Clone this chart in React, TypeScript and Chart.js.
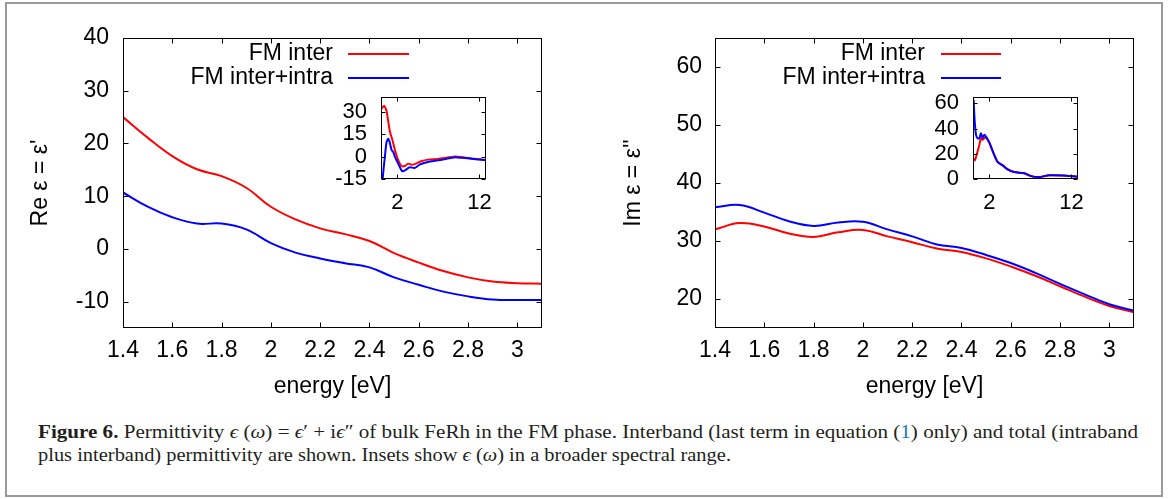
import React, { useEffect, useRef } from "react";
import { Chart, registerables } from "chart.js";

Chart.register(...registerables);

// ---------- data ----------
const SERIES_LABELS = ["FM inter", "FM inter+intra"];
const SERIES_COLORS = ["#ff0000", "#0000ff"];

const MAIN_E = [1.4, 1.5, 1.6, 1.7, 1.8, 1.9, 2.0, 2.1, 2.2, 2.3, 2.4, 2.5, 2.6, 2.7, 2.8, 2.9, 3.0, 3.1];
const RE_INTER = [25.0, 21.1, 17.6, 15.1, 13.8, 11.6, 8.0, 5.6, 3.9, 2.8, 1.5, -0.8, -2.6, -4.2, -5.4, -6.2, -6.5, -6.6];
const RE_TOTAL = [10.7, 8.0, 6.0, 4.8, 4.8, 3.7, 1.1, -0.7, -1.8, -2.7, -3.5, -5.4, -6.8, -8.1, -9.0, -9.6, -9.7, -9.7];
const IM_INTER = [32.0, 33.1, 32.5, 31.3, 30.7, 31.5, 31.9, 30.8, 29.8, 28.7, 28.1, 27.0, 25.6, 24.0, 22.2, 20.4, 18.8, 17.7];
const IM_TOTAL = [35.8, 36.2, 34.9, 33.4, 32.6, 33.2, 33.3, 32.0, 30.8, 29.4, 28.8, 27.6, 26.2, 24.5, 22.6, 20.8, 19.1, 18.0];

const RE_INSET_INTER_E = [0.12, 0.25, 0.4, 0.55, 0.7, 0.9, 1.1, 1.4, 1.7, 2.1, 2.5, 2.9, 3.3, 3.7, 4.1, 4.9, 5.7, 6.9, 8.0, 8.9, 9.8, 10.8, 11.8, 12.8];
const RE_INSET_INTER = [32.2, 33.5, 34.0, 32.5, 30.0, 23.0, 16.5, 11.0, 4.5, -2.3, -6.3, -6.3, -4.7, -5.4, -5.0, -3.1, -2.0, -1.5, -0.7, 0.0, -0.3, -1.1, -1.6, -2.3];
const RE_INSET_TOTAL_E = [0.2, 0.3, 0.49, 0.68, 0.89, 1.1, 1.3, 1.5, 1.7, 2.1, 2.5, 2.7, 3.1, 3.5, 4.1, 4.7, 5.7, 6.9, 8.0, 8.9, 9.8, 10.8, 11.8, 12.8];
const RE_INSET_TOTAL = [-15.0, -9.0, 0.9, 9.8, 12.0, 8.7, 4.3, 3.1, -0.2, -4.7, -9.2, -9.8, -8.5, -7.1, -7.6, -5.4, -3.6, -2.5, -1.5, -0.5, -0.8, -1.3, -1.9, -2.4];

const IM_INSET_INTER_E = [0.07, 0.24, 0.49, 0.77, 0.97, 1.17, 1.38, 1.58, 1.99, 2.2, 2.6, 3.0, 3.6, 4.2, 5.0, 6.3, 7.0, 8.0, 9.3, 11.0, 12.5, 12.8];
const IM_INSET_INTER = [16.3, 15.0, 20.3, 27.0, 32.3, 31.0, 32.3, 33.0, 28.7, 25.3, 18.8, 13.4, 10.8, 7.6, 5.5, 4.4, 2.4, 1.4, 2.9, 2.7, 1.9, 1.8];
const IM_INSET_TOTAL_E = [0.07, 0.15, 0.24, 0.37, 0.56, 0.77, 0.97, 1.17, 1.38, 1.58, 1.99, 2.2, 2.6, 3.0, 3.6, 4.2, 5.0, 6.3, 7.0, 8.0, 9.3, 11.0, 12.5, 12.8];
const IM_INSET_TOTAL = [63.0, 52.0, 43.0, 35.0, 32.3, 32.3, 36.3, 32.8, 35.0, 33.6, 29.0, 25.6, 19.0, 13.6, 11.0, 7.8, 5.6, 4.5, 2.5, 1.5, 3.0, 2.8, 2.0, 1.9];

const MAIN_X_TICKS = [1.4, 1.6, 1.8, 2, 2.2, 2.4, 2.6, 2.8, 3];
const RE_Y_TICKS = [-10, 0, 10, 20, 30, 40];
const IM_Y_TICKS = [20, 30, 40, 50, 60];
const INSET_X_TICKS = [2, 12];
const RE_INSET_Y_TICKS = [-15, 0, 15, 30];
const IM_INSET_Y_TICKS = [0, 20, 40, 60];

const X_TITLE = "energy [eV]";
const RE_Y_TITLE = "Re ε = ε'";
const IM_Y_TITLE = "Im ε = ε''";

const FONT = "'Liberation Sans', Arial, sans-serif";

// ---------- plugins ----------
const gnuFrame = {
  id: "gnuFrame",
  afterDraw(chart: any, _args: any, opts: any) {
    const { ctx, chartArea: a, scales } = chart;
    const L = Math.round(a.left) + 0.5;
    const R = Math.round(a.right) - 0.5;
    const T = Math.round(a.top) + 0.5;
    const B = Math.round(a.bottom) - 0.5;
    const len = opts.tick ?? 5;
    ctx.save();
    ctx.strokeStyle = "#000";
    ctx.lineWidth = opts.lineWidth ?? 1;
    ctx.beginPath();
    for (const t of scales.x.ticks) {
      const px = Math.round(scales.x.getPixelForValue(t.value)) + 0.5;
      ctx.moveTo(px, B);
      ctx.lineTo(px, B - len);
      ctx.moveTo(px, T);
      ctx.lineTo(px, T + len);
    }
    for (const t of scales.y.ticks) {
      const py = Math.round(scales.y.getPixelForValue(t.value)) + 0.5;
      ctx.moveTo(L, py);
      ctx.lineTo(L + len, py);
      ctx.moveTo(R, py);
      ctx.lineTo(R - len, py);
    }
    ctx.stroke();
    ctx.strokeRect(L, T, R - L, B - T);
    ctx.restore();
  },
};

const gnuKey = {
  id: "gnuKey",
  afterDraw(chart: any, _args: any, opts: any) {
    if (!opts || !opts.show) return;
    const { ctx } = chart;
    ctx.save();
    ctx.font = `${opts.size}px ${FONT}`;
    ctx.textAlign = "right";
    ctx.textBaseline = "middle";
    chart.data.datasets.forEach((ds: any, i: number) => {
      const y = opts.y + i * opts.dy;
      ctx.fillStyle = "#000";
      ctx.fillText(ds.label, opts.textRight, y);
      ctx.strokeStyle = ds.borderColor;
      ctx.lineWidth = 2;
      ctx.beginPath();
      ctx.moveTo(opts.x0, y);
      ctx.lineTo(opts.x1, y);
      ctx.stroke();
    });
    ctx.restore();
  },
};

function pts(xs: number[], ys: number[]) {
  return xs.map((x, i) => ({ x, y: ys[i] }));
}

function zeroPad(s: any) {
  s.paddingTop = 0;
  s.paddingBottom = 0;
  s.paddingLeft = 0;
  s.paddingRight = 0;
}

function makeChart(canvas: HTMLCanvasElement, c: any) {
  const font = { family: FONT, size: c.fontSize };
  return new Chart(canvas, {
    type: "line",
    data: {
      datasets: c.series.map((s: any, i: number) => ({
        label: SERIES_LABELS[i],
        data: pts(s[0], s[1]),
        borderColor: SERIES_COLORS[i],
        backgroundColor: SERIES_COLORS[i],
        borderWidth: c.lineWidth,
        pointRadius: 0,
        tension: c.tension,
        fill: false,
        order: i === 0 ? 1 : 0,
      })),
    },
    options: {
      animation: false,
      responsive: false,
      maintainAspectRatio: false,
      devicePixelRatio: 1,
      layout: { padding: c.padding },
      plugins: {
        legend: { display: false },
        tooltip: { enabled: false },
        title: { display: false },
        gnuFrame: { tick: c.tickLen, lineWidth: 1 },
        gnuKey: c.key || { show: false },
      } as any,
      scales: {
        x: {
          type: "linear",
          min: c.xMin,
          max: c.xMax,
          bounds: "data",
          afterBuildTicks: (s: any) => {
            s.ticks = c.xTicks.map((v: number) => ({ value: v }));
          },
          afterFit: (s: any) => {
            s.height = c.xAxisHeight;
            zeroPad(s);
          },
          grid: { display: false, drawTicks: false },
          border: { display: false },
          ticks: {
            font,
            color: "#000",
            padding: c.xTickPad,
            maxRotation: 0,
            autoSkip: false,
            callback: (v: any) => String(v),
          },
          title: c.xTitle
            ? { display: true, text: c.xTitle, font, color: "#000", padding: { top: 0, bottom: 0 } }
            : { display: false },
        },
        y: {
          type: "linear",
          min: c.yMin,
          max: c.yMax,
          bounds: "data",
          afterBuildTicks: (s: any) => {
            s.ticks = c.yTicks.map((v: number) => ({ value: v }));
          },
          afterFit: (s: any) => {
            s.width = c.yAxisWidth;
            zeroPad(s);
          },
          grid: { display: false, drawTicks: false },
          border: { display: false },
          ticks: {
            font,
            color: "#000",
            padding: c.yTickPad,
            autoSkip: false,
            callback: (v: any) => String(v),
          },
          title: c.yTitle
            ? { display: true, text: c.yTitle, font, color: "#000", padding: { top: c.yTitlePad, bottom: 0 } }
            : { display: false },
        },
      },
    } as any,
    plugins: [gnuFrame, gnuKey] as any,
  });
}

function ChartCanvas(props: { left: number; top: number; width: number; height: number; cfg: any }) {
  const ref = useRef<HTMLCanvasElement | null>(null);
  useEffect(() => {
    if (!ref.current) return;
    const ch = makeChart(ref.current, props.cfg);
    return () => ch.destroy();
  }, []);
  return (
    <canvas
      ref={ref}
      width={props.width}
      height={props.height}
      style={{ position: "absolute", left: props.left, top: props.top, width: props.width, height: props.height }}
    />
  );
}

const mainCommon = {
  fontSize: 23,
  lineWidth: 2,
  tension: 0.4,
  tickLen: 5,
  xMin: 1.4,
  xMax: 3.1,
  xTicks: MAIN_X_TICKS,
  xAxisHeight: 72,
  xTickPad: 9,
  xTitle: X_TITLE,
};

const reMain = {
  ...mainCommon,
  series: [
    [MAIN_E, RE_INTER],
    [MAIN_E, RE_TOTAL],
  ],
  yMin: -15,
  yMax: 40,
  yTicks: RE_Y_TICKS,
  yAxisWidth: 123,
  yTickPad: 14,
  yTitle: RE_Y_TITLE,
  yTitlePad: 27,
  padding: { left: 0, top: 38, right: 38, bottom: 0 },
  key: { show: true, size: 23, y: 54, dy: 24, textRight: 333, x0: 348, x1: 409 },
};

const imMain = {
  ...mainCommon,
  series: [
    [MAIN_E, IM_INTER],
    [MAIN_E, IM_TOTAL],
  ],
  yMin: 15,
  yMax: 65,
  yTicks: IM_Y_TICKS,
  yAxisWidth: 135,
  yTickPad: 13,
  yTitle: IM_Y_TITLE,
  yTitlePad: 40,
  padding: { left: 0, top: 38, right: 34, bottom: 0 },
  key: { show: true, size: 23, y: 54, dy: 24, textRight: 345, x0: 361, x1: 421 },
};

const insetCommon = {
  fontSize: 22,
  lineWidth: 2,
  tension: 0.25,
  tickLen: 4,
  xMin: 0,
  xMax: 12.8,
  xTicks: INSET_X_TICKS,
  xAxisHeight: 36,
  xTickPad: 11,
  yTickPad: 14,
};

const reInset = {
  ...insetCommon,
  series: [
    [RE_INSET_INTER_E, RE_INSET_INTER],
    [RE_INSET_TOTAL_E, RE_INSET_TOTAL],
  ],
  yMin: -15,
  yMax: 40,
  yTicks: RE_INSET_Y_TICKS,
  yAxisWidth: 61,
  padding: { left: 0, top: 12, right: 14, bottom: 0 },
};

const imInset = {
  ...insetCommon,
  series: [
    [IM_INSET_INTER_E, IM_INSET_INTER],
    [IM_INSET_TOTAL_E, IM_INSET_TOTAL],
  ],
  yMin: 0,
  yMax: 65,
  yTicks: IM_INSET_Y_TICKS,
  yAxisWidth: 63,
  padding: { left: 0, top: 12, right: 12, bottom: 0 },
};

export default function App() {
  const serif = "'Liberation Serif', 'DejaVu Serif', serif";
  return (
    <div style={{ position: "absolute", left: 0, top: 0, width: 1168, height: 499, background: "#fff", overflow: "hidden" }}>
      <div
        style={{
          position: "absolute",
          left: 5,
          top: 2,
          width: 1158,
          height: 495,
          border: "2px solid #9a9a9a",
          boxSizing: "border-box",
        }}
      />
      <ChartCanvas left={0} top={0} width={580} height={400} cfg={reMain} />
      <ChartCanvas left={580} top={0} width={588} height={400} cfg={imMain} />
      <ChartCanvas left={320} top={85} width={180} height={130} cfg={reInset} />
      <ChartCanvas left={910} top={85} width={180} height={130} cfg={imInset} />
      <svg style={{ position: "absolute", left: 0, top: 400 }} width={1168} height={99}>
        <text x={38} y={38} textLength={1100} lengthAdjust="spacingAndGlyphs" fontFamily={serif} fontSize={19.5} fill="#231f20">
          <tspan fontWeight="bold">Figure 6.</tspan> Permittivity <tspan fontStyle="italic">ϵ</tspan> (<tspan fontStyle="italic">ω</tspan>) = <tspan fontStyle="italic">ϵ</tspan>′ + i<tspan fontStyle="italic">ϵ</tspan>″ of bulk FeRh in the FM phase. Interband (last term in equation (<tspan fill="#1a75bc">1</tspan>) only) and total (intraband
        </text>
        <text x={38} y={61} textLength={693} lengthAdjust="spacingAndGlyphs" fontFamily={serif} fontSize={19.5} fill="#231f20">
          plus interband) permittivity are shown. Insets show <tspan fontStyle="italic">ϵ</tspan> (<tspan fontStyle="italic">ω</tspan>) in a broader spectral range.
        </text>
      </svg>
    </div>
  );
}
